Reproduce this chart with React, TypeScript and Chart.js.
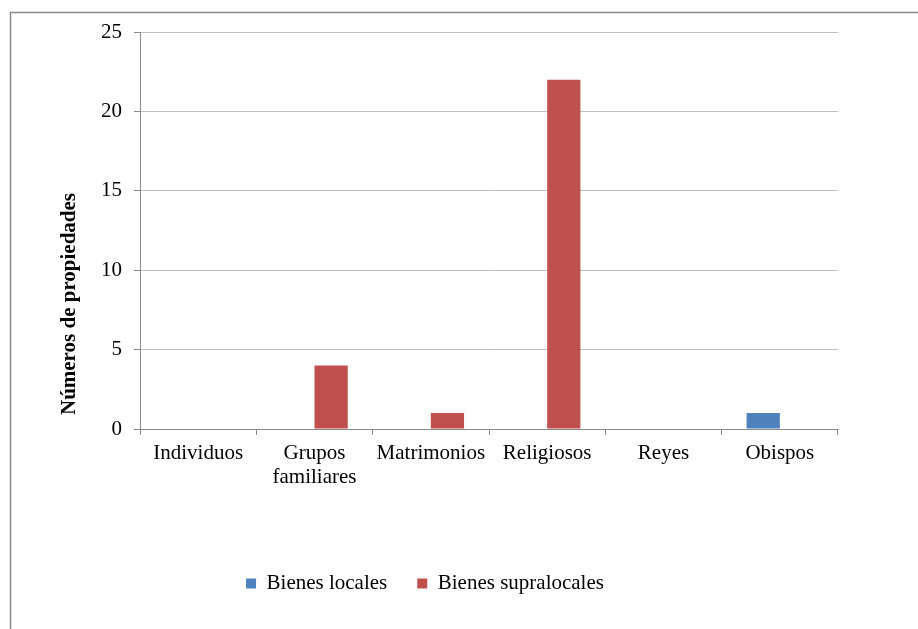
import React, { useEffect, useRef } from "react";
import { Chart, registerables } from "chart.js";

Chart.register(...registerables);

const categories: (string | string[])[] = [
  "Individuos",
  ["Grupos", "familiares"],
  "Matrimonios",
  "Religiosos",
  "Reyes",
  "Obispos",
];
const localValues = [0, 0, 0, 0, 0, 1];
const supralocalValues = [0, 4, 1, 22, 0, 0];
const seriesNames = ["Bienes locales", "Bienes supralocales"];
const yAxisTitle = "Números de propiedades";
const yMin = 0;
const yMax = 25;
const yStep = 5;

const FONT = "'Liberation Serif', 'Times New Roman', serif";

export default function App() {
  const ref = useRef<HTMLCanvasElement | null>(null);

  useEffect(() => {
    if (!ref.current) return;

    const framePlugin = {
      id: "frame",
      beforeDraw(chart: any) {
        const ctx = chart.ctx;
        ctx.save();
        ctx.strokeStyle = "#8a8a8a";
        ctx.lineWidth = 1.5;
        ctx.beginPath();
        ctx.moveTo(10.5, 629);
        ctx.lineTo(10.5, 12.5);
        ctx.lineTo(918, 12.5);
        ctx.stroke();
        ctx.restore();
      },
      afterDraw(chart: any) {
        const ctx = chart.ctx;
        ctx.save();
        ctx.translate(70, 304);
        ctx.rotate(-Math.PI / 2);
        ctx.font = `bold 21px ${FONT}`;
        ctx.fillStyle = "#000";
        ctx.textAlign = "center";
        ctx.textBaseline = "middle";
        ctx.fillText(yAxisTitle, 0, 0);
        ctx.restore();
      },
    };

    const chart = new Chart(ref.current, {
      type: "bar",
      data: {
        labels: categories as any,
        datasets: [
          {
            label: seriesNames[0],
            data: localValues,
            backgroundColor: "#4F81BD",
            borderWidth: 0,
          },
          {
            label: seriesNames[1],
            data: supralocalValues,
            backgroundColor: "#C0504D",
            borderWidth: 0,
          },
        ],
      },
      options: {
        responsive: false,
        animation: false,
        layout: { padding: { left: 12, right: 80, top: 32, bottom: 25 } },
        datasets: {
          bar: { categoryPercentage: 2 / 3.5, barPercentage: 1 },
        },
        plugins: {
          tooltip: { enabled: false },
          title: { display: false },
          legend: {
            position: "bottom",
            labels: {
              boxWidth: 10,
              boxHeight: 10,
              padding: 30,
              color: "#000",
              font: { family: FONT, size: 21 },
            },
          },
        },
        scales: {
          x: {
            offset: true,
            grid: {
              display: true,
              drawOnChartArea: false,
              drawTicks: true,
              tickLength: 6,
              tickColor: "#8a8a8a",
              offset: true,
            },
            border: { color: "#8a8a8a", width: 1 },
            ticks: {
              color: "#000",
              font: { family: FONT, size: 21, lineHeight: 1.15 },
              padding: 6,
              maxRotation: 0,
              autoSkip: false,
            },
            afterFit(scale: any) {
              scale.height = 114;
            },
          },
          y: {
            min: yMin,
            max: yMax,
            ticks: {
              stepSize: yStep,
              color: "#000",
              font: { family: FONT, size: 21 },
              padding: 12,
            },
            grid: {
              color: "#BFBFBF",
              tickLength: 6,
              tickColor: "#8a8a8a",
            },
            border: { color: "#8a8a8a", width: 1 },
            afterFit(scale: any) {
              scale.width = 128;
            },
          },
        },
      },
      plugins: [framePlugin],
    });

    return () => chart.destroy();
  }, []);

  return (
    <div style={{ position: "absolute", left: 0, top: 0, width: 918, height: 629, background: "#fff" }}>
      <canvas ref={ref} width={918} height={629} style={{ display: "block" }} />
    </div>
  );
}
